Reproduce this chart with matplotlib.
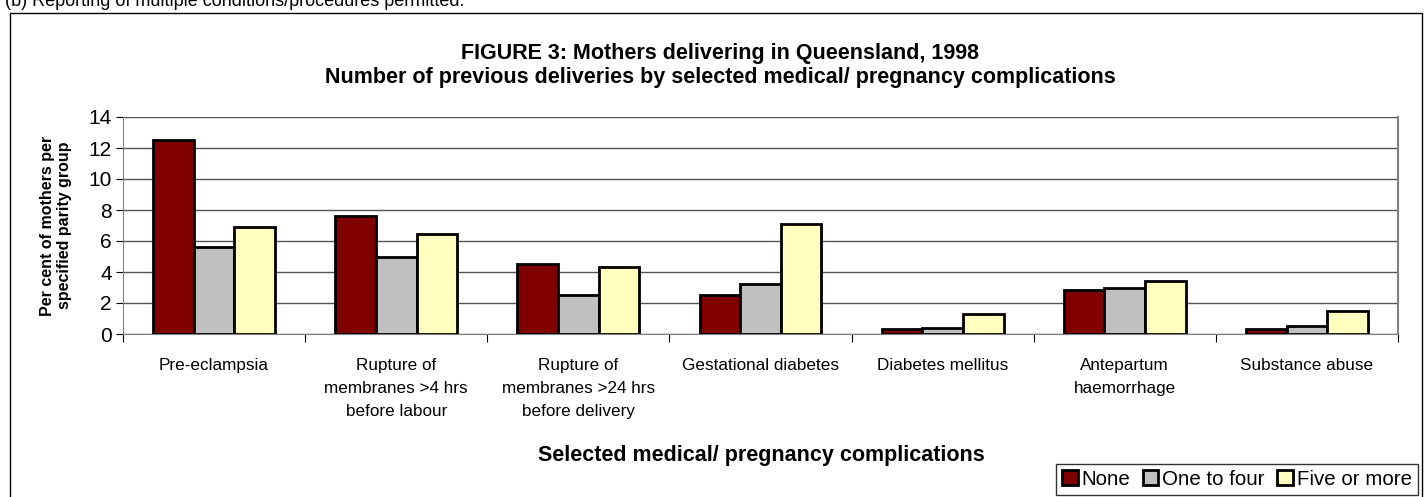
import numpy as np
import matplotlib
matplotlib.use("Agg")
import matplotlib.pyplot as plt
from matplotlib.patches import Rectangle

categories = ["Pre-eclampsia", "Rupture of\nmembranes >4 hrs\nbefore labour",
              "Rupture of\nmembranes >24 hrs\nbefore delivery", "Gestational diabetes",
              "Diabetes mellitus", "Antepartum\nhaemorrhage", "Substance abuse"]
none = [12.5, 7.6, 4.5, 2.5, 0.3, 2.85, 0.3]
one_to_four = [5.6, 4.95, 2.5, 3.2, 0.4, 2.95, 0.5]
five_plus = [6.9, 6.45, 4.3, 7.1, 1.3, 3.45, 1.5]
series = [("None", none, "#800000"), ("One to four", one_to_four, "#c0c0c0"),
          ("Five or more", five_plus, "#ffffc0")]

plt.rcParams["font.family"] = ["Liberation Sans", "DejaVu Sans"]
W, H = 1426, 497
fig = plt.figure(figsize=(W / 100, H / 100), dpi=100)
ax = fig.add_axes([123 / W, 1 - 334 / H, (1398 - 123) / W, (334 - 117) / H])

# outer chart frame and the cut-off note above it
fig.patches.append(Rectangle((10 / W, -0.01), 1412 / W, 1.01 - 13 / H, transform=fig.transFigure,
                             fill=False, ec="black", lw=1.0))
fig.text(5 / W, 1 - 6 / H, "(b) Reporting of multiple conditions/procedures permitted.",
         fontsize=13, va="baseline", ha="left")

x = np.arange(len(categories))
bw = 0.223
for i, (lab, vals, col) in enumerate(series):
    ax.bar(x + (i - 1) * bw, vals, bw, color=col, edgecolor="black", lw=2.0, label=lab, zorder=3)

ax.set_xlim(-0.5, len(categories) - 0.5)
ax.set_ylim(0, 14)
ax.set_yticks(range(0, 15, 2))
ax.yaxis.grid(True, color="#555555", lw=1.0, zorder=0)
ax.set_xticks(np.arange(len(categories) + 1) - 0.5)
ax.set_xticklabels([])
ax.tick_params(axis="x", direction="out", length=6, color="black")
ax.tick_params(axis="y", direction="out", length=5, labelsize=15, pad=3)
for i, c in enumerate(categories):
    ax.annotate(c, (i, 0), xytext=(0, -17), textcoords="offset points",
                ha="center", va="top", fontsize=12.3, linespacing=1.68)
ax.spines["top"].set_visible(False)
for s in ["left", "bottom", "right"]:
    ax.spines[s].set_color("#808080")
ax.spines["right"].set_linewidth(1.5)

ax.set_ylabel("Per cent of mothers per\nspecified parity group", fontsize=11.5,
              fontweight="bold")
ax.yaxis.set_label_coords(-0.040, 0.5)

fig.text(720 / W, 1 - 54 / H, "FIGURE 3: Mothers delivering in Queensland, 1998",
         ha="center", va="center", fontsize=15.5, fontweight="bold")
fig.text(720 / W, 1 - 78 / H, "Number of previous deliveries by selected medical/ pregnancy complications",
         ha="center", va="center", fontsize=15.5, fontweight="bold")
fig.text(761 / W, 1 - 456 / H, "Selected medical/ pregnancy complications",
         ha="center", va="center", fontsize=15.5, fontweight="bold")

leg = fig.legend(loc="lower right", bbox_to_anchor=(1418 / W, 2 / H), ncol=3, fontsize=14.8,
                 frameon=True, fancybox=False, edgecolor="black", handlelength=0.75,
                 handleheight=0.75, handletextpad=0.2, columnspacing=0.6, borderpad=0.3,
                 borderaxespad=0)
leg.get_frame().set_linewidth(1.0)

fig.savefig("out.png", dpi=100)
